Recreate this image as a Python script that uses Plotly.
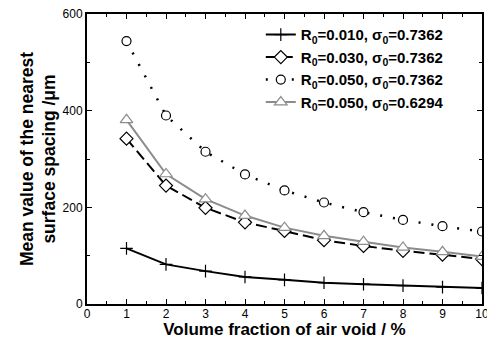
import plotly.graph_objects as go

x_vals = [1, 2, 3, 4, 5, 6, 7, 8, 9, 10]
r010_s7362 = [115, 82, 68, 56, 50, 44, 41, 38, 35, 33]
r030_s7362 = [342, 245, 199, 169, 151, 132, 120, 110, 102, 93]
r050_s7362 = [544, 390, 315, 268, 235, 210, 190, 174, 161, 150]
r050_s6294 = [381, 269, 217, 183, 158, 141, 129, 117, 108, 98]
names = [
    "R<sub>0</sub>=0.010, σ<sub>0</sub>=0.7362",
    "R<sub>0</sub>=0.030, σ<sub>0</sub>=0.7362",
    "R<sub>0</sub>=0.050, σ<sub>0</sub>=0.7362",
    "R<sub>0</sub>=0.050, σ<sub>0</sub>=0.6294",
]
x_ticks = list(range(0, 11))
y_ticks = [0, 200, 400, 600]

FONT = "Liberation Sans, Arial, sans-serif"
GRAY = "#8c8c8c"

fig = go.Figure()
fig.add_trace(go.Scatter(
    x=x_vals, y=r010_s7362, name=names[0], mode="lines+markers",
    line=dict(color="black", width=2),
    marker=dict(symbol="cross-thin", size=9, line=dict(color="black", width=1.2)),
))
fig.add_trace(go.Scatter(
    x=x_vals, y=r030_s7362, name=names[1], mode="lines+markers",
    line=dict(color="black", width=2, dash="11px,5px"),
    marker=dict(symbol="diamond", size=10, color="white", line=dict(color="black", width=1.2)),
))
fig.add_trace(go.Scatter(
    x=x_vals, y=r050_s7362, name=names[2], mode="lines+markers",
    line=dict(color="black", width=2.5, dash="2px,11px"),
    marker=dict(symbol="circle", size=9, color="white", line=dict(color="black", width=1.2)),
))
fig.add_trace(go.Scatter(
    x=x_vals, y=r050_s6294, name=names[3], mode="lines+markers",
    line=dict(color=GRAY, width=2),
    marker=dict(symbol="triangle-up", size=11, color="white", line=dict(color=GRAY, width=1.2)),
))

axis_common = dict(
    showline=True, linecolor="black", linewidth=2, mirror="allticks",
    ticks="inside", ticklen=5, tickwidth=1, tickcolor="black",
    showgrid=False, zeroline=False, ticklabeloverflow="allow",
    tickfont=dict(family=FONT, size=12, color="black"),
)
fig.update_xaxes(
    range=[0, 10], tickvals=x_ticks, ticklabelstandoff=-2,
    minor=dict(dtick=0.5, ticks="inside", ticklen=3, tickcolor="black", tickwidth=1),
    title=dict(text="Volume fraction of air void / %", standoff=2,
               font=dict(family=FONT, size=17, color="black", weight="bold")),
    **axis_common,
)
fig.update_yaxes(
    range=[0, 600], tickvals=y_ticks,
    minor=dict(dtick=100, ticks="inside", ticklen=3, tickcolor="black", tickwidth=1),
    title=dict(text="Mean value of the nearest<br>surface spacing /μm", standoff=2,
               font=dict(family=FONT, size=17.5, color="black", weight="bold")),
    **axis_common,
)
fig.update_layout(
    width=487, height=339,
    margin=dict(l=87, r=5, t=14, b=35, autoexpand=False),
    paper_bgcolor="white", plot_bgcolor="white",
    font=dict(family=FONT, color="black"),
    showlegend=True,
    legend=dict(
        x=0.44, y=0.985, xanchor="left", yanchor="top",
        bgcolor="rgba(0,0,0,0)", borderwidth=0,
        font=dict(family=FONT, size=15, color="black", weight="bold"),
        itemwidth=30, tracegroupgap=0,
    ),
)
fig.write_html("out.html")
